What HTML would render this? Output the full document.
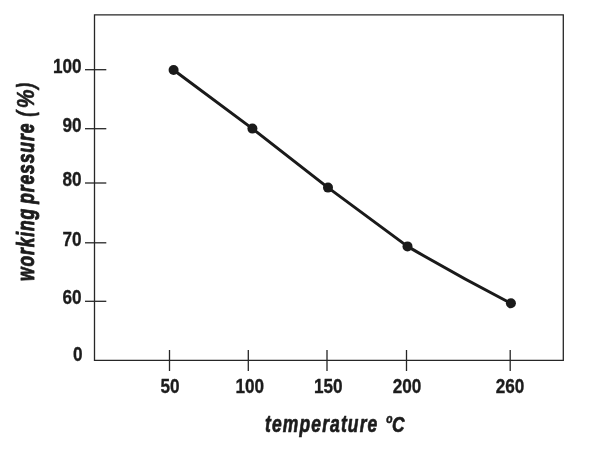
<!DOCTYPE html>
<html><head><meta charset="utf-8">
<style>
html,body{margin:0;padding:0;background:#fff;}
svg{display:block;}
text{font-family:"Liberation Sans",sans-serif;font-weight:bold;fill:#1c1c1c;}
.it{font-style:italic;}
</style></head><body>
<svg width="600" height="451" viewBox="0 0 600 451">
<rect width="600" height="451" fill="#fff"/>
<path d="M94.5 14.8 H563.3 V360.3 H94.5 Z" fill="none" stroke="#262626" stroke-width="1.3"/>
<g stroke="#262626" stroke-width="1.3">
<line x1="85" x2="106.3" y1="69.7" y2="69.7"/>
<line x1="85" x2="106.3" y1="128.7" y2="128.7"/>
<line x1="85" x2="106.3" y1="183" y2="183"/>
<line x1="85" x2="106.3" y1="242.8" y2="242.8"/>
<line x1="85" x2="106.3" y1="301.3" y2="301.3"/>
<line x1="169.5" x2="169.5" y1="350" y2="371"/>
<line x1="248.3" x2="248.3" y1="350" y2="371"/>
<line x1="327" x2="327" y1="350" y2="371"/>
<line x1="406.5" x2="406.5" y1="350" y2="371"/>
<line x1="510.2" x2="510.2" y1="350" y2="371"/>
</g>
<path d="M173.6 70 L252.4 128.6 L328 187.6 L407.5 246.4 Q458 276 510.9 303.3" fill="none" stroke="#1a1a1a" stroke-width="3" stroke-linejoin="round"/>
<g fill="#1a1a1a">
<circle cx="173.6" cy="70" r="5"/>
<circle cx="252.4" cy="128.6" r="5"/>
<circle cx="328" cy="187.6" r="5"/>
<circle cx="407.5" cy="246.4" r="5"/>
<circle cx="510.9" cy="303.3" r="5"/>
</g>
<text class="" font-size="20.7" text-anchor="end" transform="translate(81.6 72.5) scale(0.83 1)" stroke="#1c1c1c" stroke-width="0.35" stroke-linejoin="round" letter-spacing="0">100</text>
<text class="" font-size="20.7" text-anchor="end" transform="translate(81.6 132) scale(0.83 1)" stroke="#1c1c1c" stroke-width="0.35" stroke-linejoin="round" letter-spacing="0">90</text>
<text class="" font-size="20.7" text-anchor="end" transform="translate(81.6 186.3) scale(0.83 1)" stroke="#1c1c1c" stroke-width="0.35" stroke-linejoin="round" letter-spacing="0">80</text>
<text class="" font-size="20.7" text-anchor="end" transform="translate(81.6 245.8) scale(0.83 1)" stroke="#1c1c1c" stroke-width="0.35" stroke-linejoin="round" letter-spacing="0">70</text>
<text class="" font-size="20.7" text-anchor="end" transform="translate(81.6 304.2) scale(0.83 1)" stroke="#1c1c1c" stroke-width="0.35" stroke-linejoin="round" letter-spacing="0">60</text>
<text class="" font-size="20.7" text-anchor="end" transform="translate(82.6 360.6) scale(0.83 1)" stroke="#1c1c1c" stroke-width="0.35" stroke-linejoin="round" letter-spacing="0">0</text>
<text class="" font-size="20.7" text-anchor="middle" transform="translate(170 393.1) scale(0.83 1)" stroke="#1c1c1c" stroke-width="0.35" stroke-linejoin="round" letter-spacing="0">50</text>
<text class="" font-size="20.7" text-anchor="middle" transform="translate(249.8 393.1) scale(0.83 1)" stroke="#1c1c1c" stroke-width="0.35" stroke-linejoin="round" letter-spacing="0">100</text>
<text class="" font-size="20.7" text-anchor="middle" transform="translate(328.2 393.1) scale(0.83 1)" stroke="#1c1c1c" stroke-width="0.35" stroke-linejoin="round" letter-spacing="0">150</text>
<text class="" font-size="20.7" text-anchor="middle" transform="translate(407 393.1) scale(0.83 1)" stroke="#1c1c1c" stroke-width="0.35" stroke-linejoin="round" letter-spacing="0">200</text>
<text class="" font-size="20.7" text-anchor="middle" transform="translate(510 393.1) scale(0.83 1)" stroke="#1c1c1c" stroke-width="0.35" stroke-linejoin="round" letter-spacing="0">260</text>
<text class="it" font-size="23" text-anchor="start" transform="translate(265 431.5) scale(0.76 1)" stroke="#1c1c1c" stroke-width="0.7" stroke-linejoin="round" letter-spacing="1.5">temperature</text>
<text class="it" font-size="12.5" text-anchor="start" transform="translate(386.2 423.0) scale(0.82 1)" stroke="#1c1c1c" stroke-width="0.6" stroke-linejoin="round" letter-spacing="0">o</text>
<text class="it" font-size="22.5" text-anchor="start" transform="translate(391.9 431.6) scale(0.77 1)" stroke="#1c1c1c" stroke-width="0.7" stroke-linejoin="round" letter-spacing="0">C</text>
<text class="it" font-size="23" transform="translate(33.9 281) rotate(-90) scale(0.76 1)" stroke="#1c1c1c" stroke-width="0.95" stroke-linejoin="round" letter-spacing="1.15">working</text>
<text class="it" font-size="23" transform="translate(33.9 203.8) rotate(-90) scale(0.76 1)" stroke="#1c1c1c" stroke-width="0.95" stroke-linejoin="round" letter-spacing="1.2">pressure</text>
<text class="it" font-size="23" transform="translate(33.9 116.8) rotate(-90) scale(0.76 1)" stroke="#1c1c1c" stroke-width="0.6" stroke-linejoin="round" letter-spacing="0">(</text>
<text class="it" font-size="23" transform="translate(33.9 108.2) rotate(-90) scale(0.92 1)" stroke="#1c1c1c" stroke-width="0.5" stroke-linejoin="round" letter-spacing="0">%</text>
<text class="it" font-size="23" transform="translate(33.9 88.8) rotate(-90) scale(0.76 1)" stroke="#1c1c1c" stroke-width="0.6" stroke-linejoin="round" letter-spacing="0">)</text>
</svg>
</body></html>
